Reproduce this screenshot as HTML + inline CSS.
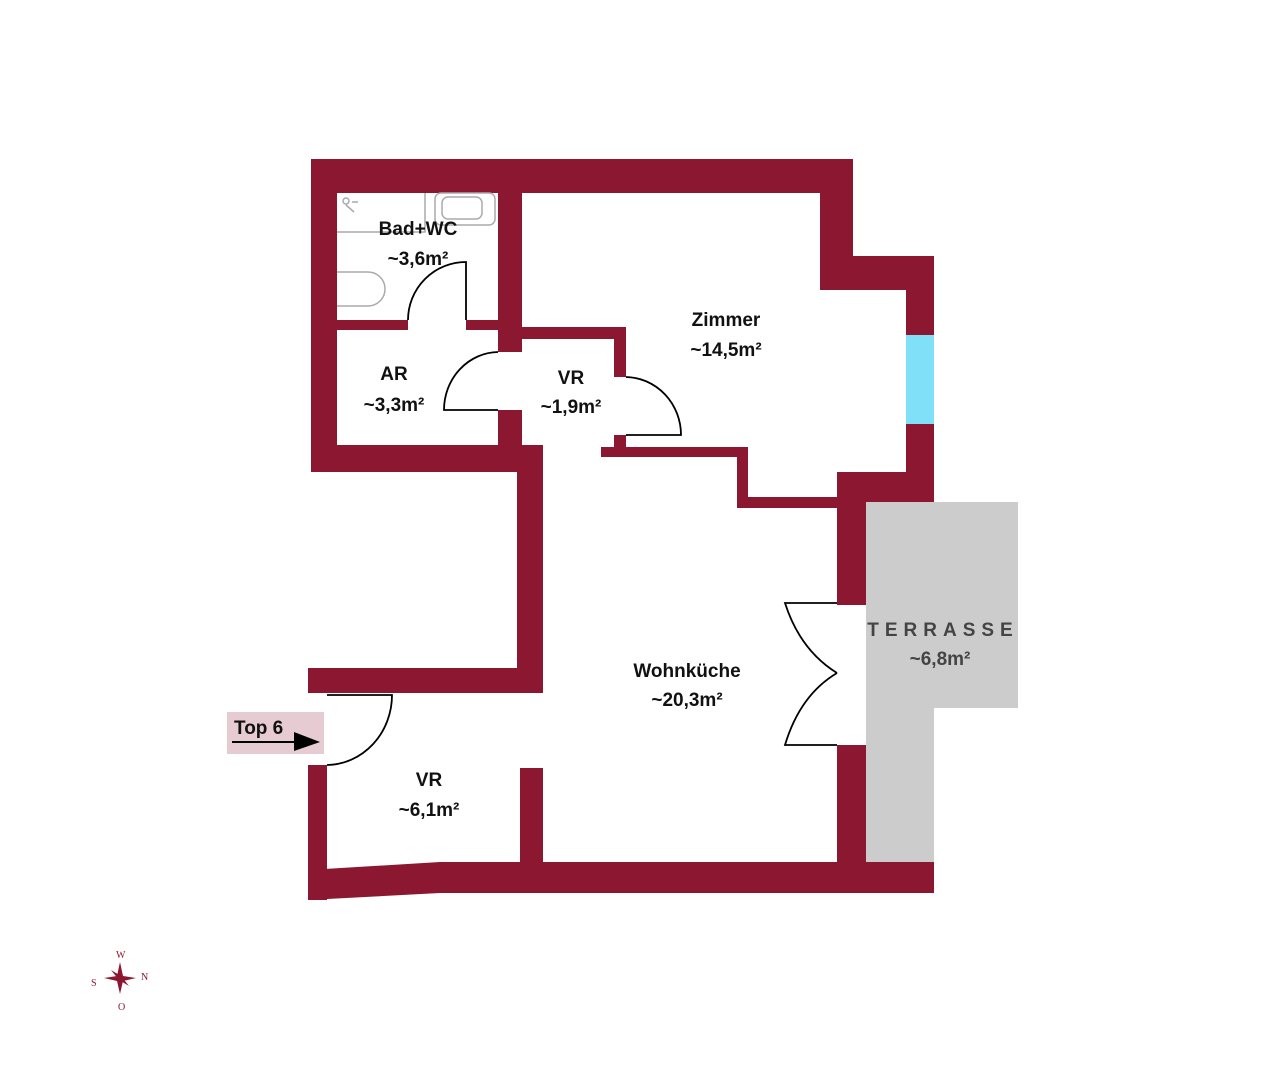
<!DOCTYPE html>
<html><head><meta charset="utf-8"><style>
body{margin:0;background:#fff}
svg{display:block}
text{font-family:"Liberation Sans",sans-serif;font-weight:bold;fill:#111;font-size:19px}
</style></head><body>
<svg width="1269" height="1080" viewBox="0 0 1269 1080">
<rect x="866" y="502" width="152" height="206" fill="#ccc"/>
<rect x="866" y="700" width="68" height="162" fill="#ccc"/>
<rect x="906" y="335" width="28" height="89" fill="#7fe0f8"/>
<g fill="#8b1730">
<rect x="311" y="159" width="542" height="34"/>
<rect x="311" y="159" width="26" height="313"/>
<rect x="311" y="445" width="232" height="27"/>
<rect x="517" y="445" width="26" height="248"/>
<rect x="498" y="193" width="24" height="159"/>
<rect x="498" y="410" width="24" height="37"/>
<rect x="337" y="320" width="71" height="10"/>
<rect x="466" y="320" width="32" height="10"/>
<rect x="522" y="327" width="104" height="12"/>
<rect x="614" y="327" width="12" height="50"/>
<rect x="614" y="435" width="12" height="14"/>
<rect x="601" y="447" width="147" height="10"/>
<rect x="820" y="159" width="33" height="131"/>
<rect x="820" y="256" width="114" height="34"/>
<rect x="906" y="256" width="28" height="79"/>
<rect x="906" y="424" width="28" height="78"/>
<rect x="737" y="447" width="11" height="61"/>
<rect x="737" y="497" width="129" height="11"/>
<rect x="837" y="472" width="97" height="30"/>
<rect x="837" y="472" width="29" height="133"/>
<rect x="837" y="745" width="29" height="148"/>
<rect x="520" y="862" width="414" height="31"/>
<polygon points="308,870 440,862 520,862 520,893 440,893 308,900"/>
<rect x="308" y="765" width="19" height="135"/>
<rect x="308" y="668" width="235" height="25"/>
<rect x="520" y="768" width="23" height="94"/>
</g>
<g fill="none" stroke="#aaa" stroke-width="1.5">
<path d="M337 232 H425 V193"/>
<rect x="435" y="193" width="60" height="32" rx="6"/>
<rect x="442" y="197" width="40" height="22" rx="6"/>
<path d="M337 272 H368 A17 17 0 0 1 368 306 H337"/>
<circle cx="346" cy="201" r="3"/><path d="M346 205 L354 212 M352 202 H358"/>
</g>
<g fill="none" stroke="#000" stroke-width="1.8">
<path d="M466 320 V262 A58 58 0 0 0 408 320"/>
<path d="M498 410 H444 A55 58 0 0 1 498 352"/>
<path d="M626 435 H681 A56 58 0 0 0 626 377"/>
<path d="M327 695 H392 A66 70 0 0 1 327 765"/>
<path d="M837 603 H785 Q800 650 837 673"/>
<path d="M837 745 H785 Q800 695 837 673"/>
</g>
<rect x="227" y="712" width="97" height="42" fill="#e6ccd2"/>
<text x="234" y="734">Top 6</text>
<path d="M232 742 H300" stroke="#000" stroke-width="2"/>
<polygon points="294,732 320,742 294,751" fill="#000"/>
<g text-anchor="middle">
<text x="418" y="235">Bad+WC</text><text x="418" y="265">~3,6m²</text>
<text x="394" y="380">AR</text><text x="394" y="411">~3,3m²</text>
<text x="571" y="384">VR</text><text x="571" y="413">~1,9m²</text>
<text x="726" y="326">Zimmer</text><text x="726" y="356">~14,5m²</text>
<text x="687" y="677">Wohnküche</text><text x="687" y="706">~20,3m²</text>
<text x="429" y="786">VR</text><text x="429" y="816">~6,1m²</text>
<text x="943" y="636" style="letter-spacing:6px;fill:#444">TERRASSE</text>
<text x="940" y="665" style="fill:#444">~6,8m²</text>
</g>
<g fill="#8b1730">
<polygon points="120,962 123,976 136,978 123,981 120,994 117,981 104,978 117,976"/>
<polygon points="111,970 121,976 129,986 119,980" />
<text x="116" y="958" style="font-size:10px;font-weight:normal;fill:#8b1730;font-family:'Liberation Serif',serif">W</text>
<text x="91" y="986" style="font-size:10px;font-weight:normal;fill:#8b1730;font-family:'Liberation Serif',serif">S</text>
<text x="141" y="980" style="font-size:10px;font-weight:normal;fill:#8b1730;font-family:'Liberation Serif',serif">N</text>
<text x="118" y="1010" style="font-size:10px;font-weight:normal;fill:#8b1730;font-family:'Liberation Serif',serif">O</text>
</g>
</svg>
</body></html>
